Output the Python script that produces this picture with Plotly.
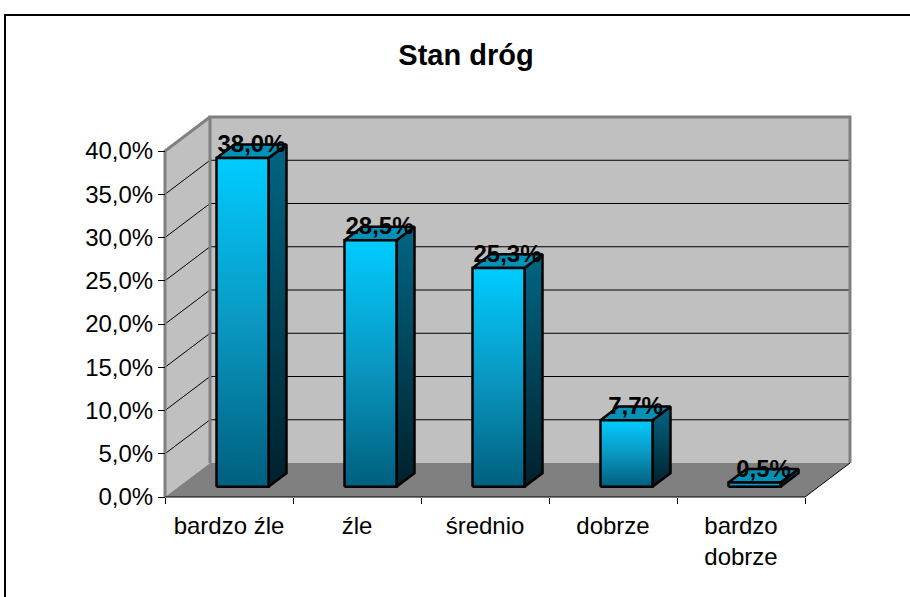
import plotly.graph_objects as go

# ---------------- data ----------------
TITLE = "Stan dróg"
CATEGORIES = ["bardzo źle", "źle", "średnio", "dobrze", "bardzo<br>dobrze"]
VALUES = [0.380, 0.285, 0.253, 0.077, 0.005]
Y_TICKS = [0.0, 0.05, 0.10, 0.15, 0.20, 0.25, 0.30, 0.35, 0.40]

# ---------------- layout constants ----------------
W, H = 910, 597
PL, PR, PT, PB = 150, 880, 90, 512           # plot area in pixels
X0_PX, Y0_PX = 165, 497                      # pixel of data origin
X_SCALE = 128.0                              # px per category
Y_SCALE = 865.0                              # px per 1.0 (100 %)
DX = 45.0 / X_SCALE                          # oblique depth offset (x, data units)
DY = 34.0 / Y_SCALE                          # oblique depth offset (y, data units)
BAR_W = 52.0 / X_SCALE                       # bar width (category units)
D0, D1 = 0.3, 0.7                            # bar depth span
LABEL_LIFT = 5.0 / Y_SCALE
FONT = "Arial, Liberation Sans, sans-serif"

N = len(CATEGORIES)
TOP = Y_TICKS[-1]

x_range = [(PL - X0_PX) / X_SCALE, (PR - X0_PX) / X_SCALE]
y_range = [(Y0_PX - PB) / Y_SCALE, (Y0_PX - PT) / Y_SCALE]


def paper_x(px):
    return (px - PL) / (PR - PL)


def paper_y(py):
    return (PB - py) / (PB - PT)


def proj(x, y, d):
    return x + d * DX, y + d * DY


def poly(points, **kw):
    xs, ys = [], []
    for p in points:
        px, py = proj(*p)
        xs.append(px)
        ys.append(py)
    xs.append(xs[0])
    ys.append(ys[0])
    return go.Scatter(x=xs, y=ys, mode="lines", fill="toself",
                      hoverinfo="skip", showlegend=False, **kw)


def path(points, **kw):
    xs, ys = [], []
    for p in points:
        if p is None:
            xs.append(None)
            ys.append(None)
            continue
        px, py = proj(*p)
        xs.append(px)
        ys.append(py)
    return go.Scatter(x=xs, y=ys, mode="lines", hoverinfo="skip",
                      showlegend=False, **kw)


fig = go.Figure()

WALL = "#C0C0C0"
FLOOR = "#808080"
NOLINE = dict(width=0, color="rgba(0,0,0,0)")

# walls
fig.add_trace(poly([(0, 0, 0), (0, 0, 1), (0, TOP, 1), (0, TOP, 0)],
                   fillcolor=WALL, line=NOLINE))
fig.add_trace(poly([(0, 0, 1), (N, 0, 1), (N, TOP, 1), (0, TOP, 1)],
                   fillcolor=WALL, line=NOLINE))

# gridlines
grid_pts = []
for v in Y_TICKS[1:-1]:
    grid_pts += [(0, v, 0), (0, v, 1), (N, v, 1), None]
fig.add_trace(path(grid_pts, line=dict(color="black", width=1)))

# floor
fig.add_trace(poly([(0, 0, 0), (N, 0, 0), (N, 0, 1), (0, 0, 1)],
                   fillcolor=FLOOR, line=NOLINE))

# wall borders
fig.add_trace(path([(0, 0, 1), (0, TOP, 1), (N, TOP, 1), (N, 0, 1), None,
                    (0, 0, 0), (0, TOP, 0), (0, TOP, 1)],
                   line=dict(color="#808080", width=3)))

# floor outline / x axis line
fig.add_trace(path([(0, 0, 0), (N, 0, 0), (N, 0, 1)],
                   line=dict(color="black", width=1)))

# bars
BAR_LINE = dict(color="black", width=2.5)
for i, v in enumerate(VALUES):
    xl = i + 0.5 - BAR_W / 2
    xr = i + 0.5 + BAR_W / 2
    # side face
    fig.add_trace(poly([(xr, 0, D0), (xr, 0, D1), (xr, v, D1), (xr, v, D0)],
                       line=BAR_LINE,
                       fillgradient=dict(type="vertical",
                                         colorscale=[[0, "#00202B"], [1, "#006684"]])))
    # top face
    fig.add_trace(poly([(xl, v, D0), (xr, v, D0), (xr, v, D1), (xl, v, D1)],
                       line=BAR_LINE, fillcolor="#0092B6"))
    # front face
    fig.add_trace(poly([(xl, 0, D0), (xr, 0, D0), (xr, v, D0), (xl, v, D0)],
                       line=BAR_LINE,
                       fillgradient=dict(type="vertical",
                                         colorscale=[[0, "#005F7E"], [0.5, "#0A98C2"],
                                                     [1, "#00CCFF"]])))

# data labels
lx, ly, lt = [], [], []
for i, v in enumerate(VALUES):
    px, py = proj(i + 0.5, v, 0.5)
    lx.append(px)
    ly.append(py + LABEL_LIFT)
    lt.append(f"{v * 100:.1f}".replace(".", ",") + "%")
fig.add_trace(go.Scatter(x=lx, y=ly, mode="text", text=lt,
                         textposition="middle center", cliponaxis=False,
                         textfont=dict(family=FONT, size=24, color="black",
                                       weight="bold"),
                         hoverinfo="skip", showlegend=False))

# outer chart border
fig.add_shape(type="rect", xref="paper", yref="paper",
              x0=paper_x(5), x1=paper_x(920), y0=paper_y(15), y1=paper_y(610),
              line=dict(color="black", width=2), fillcolor="rgba(0,0,0,0)",
              layer="above")

fig.update_layout(
    width=W, height=H,
    margin=dict(l=PL, r=W - PR, t=PT, b=H - PB, pad=0),
    paper_bgcolor="white", plot_bgcolor="white",
    separators=",.",
    hovermode=False,
    font=dict(family=FONT, size=24, color="black"),
    title=dict(text=TITLE, x=466 / W, y=1 - 55 / H,
               xanchor="center", yanchor="middle",
               xref="container", yref="container",
               font=dict(family=FONT, size=29, color="black", weight="bold")),
    xaxis=dict(range=x_range, domain=[0, 1], anchor="free",
               position=(PB - Y0_PX) / (PB - PT),
               showgrid=False, zeroline=False, showline=False,
               tickmode="array", tickvals=[i + 0.5 for i in range(N)],
               ticktext=CATEGORIES, ticks="", ticklabelstandoff=12,
               tickfont=dict(family=FONT, size=24, color="black"),
               minor=dict(tickmode="array", tickvals=list(range(N + 1)),
                          ticks="outside", ticklen=6, tickwidth=1,
                          tickcolor="black", showgrid=False),
               fixedrange=True),
    yaxis=dict(range=y_range, domain=[0, 1], anchor="free",
               position=(X0_PX - PL) / (PR - PL),
               showgrid=False, zeroline=False, showline=False,
               tickmode="array", tickvals=Y_TICKS, tickformat=".1%",
               ticks="outside", ticklen=7, tickwidth=1, tickcolor="black",
               tickfont=dict(family=FONT, size=24, color="black"),
               fixedrange=True),
)

fig.write_html("out.html",
               config={"displayModeBar": False, "staticPlot": True},
               post_script="document.body.style.margin='0px';"
                           "document.body.style.overflow='hidden';")
